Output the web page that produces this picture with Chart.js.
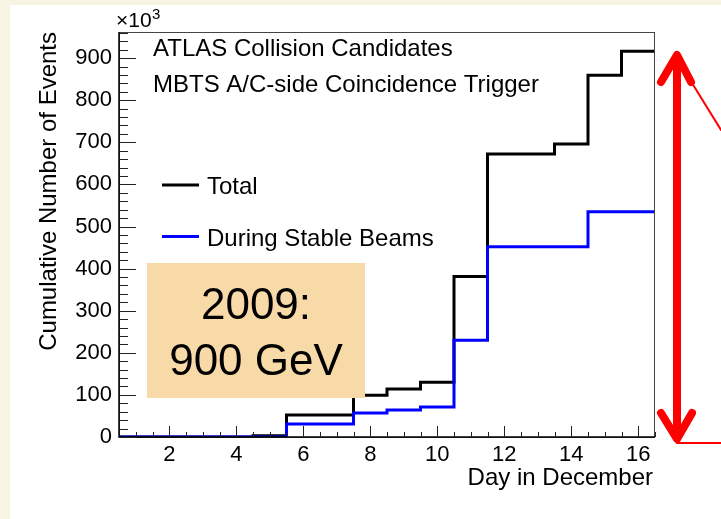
<!DOCTYPE html>
<html>
<head>
<meta charset="utf-8">
<script src="https://cdn.jsdelivr.net/npm/chart.js@4.4.1/dist/chart.umd.min.js"></script>
<style>
  html, body { margin: 0; padding: 0; background: #f8f4e4; }
  #wrap { position: absolute; left: 0; top: 0; width: 721px; height: 519px; }
</style>
</head>
<body>
<div id="wrap"><canvas id="c" width="721" height="519"></canvas></div>
<script>
// ---- data (thousands of events) ----
const days = [1, 2, 3, 4, 5, 6, 7, 8, 9, 10, 11, 12, 13, 14, 15, 16];
const totalEvents = [0, 0, 0, 0, 3, 52, 52, 99, 114, 130, 381, 672, 672, 696, 859, 916];
const stableBeamEvents = [0, 0, 0, 0, 0, 31, 31, 57, 64, 71, 230, 452, 452, 452, 535, 535];
const xTickLabels = [2, 4, 6, 8, 10, 12, 14, 16];
const yTickLabels = [0, 100, 200, 300, 400, 500, 600, 700, 800, 900];
const seriesNames = ['Total', 'During Stable Beams'];
const titleLines = ['ATLAS Collision Candidates', 'MBTS A/C-side Coincidence Trigger'];
const annotationLines = ['2009:', '900 GeV'];
const xAxisTitle = 'Day in December';
const yAxisTitle = 'Cumulative Number of Events';

// histogram as step points at bin low edges, plus closing edge
function histPoints(vals) {
  const pts = days.map((d, i) => ({ x: d - 0.5, y: vals[i] }));
  pts.push({ x: days[days.length - 1] + 0.5, y: vals[vals.length - 1] });
  return pts;
}

const FONT = "'Liberation Sans', Arial, Helvetica, sans-serif";
Chart.defaults.font.family = FONT;

const decor = {
  id: 'decor',
  beforeDraw(chart) {
    const c = chart.ctx;
    c.save();
    c.fillStyle = '#f8f4e4';
    c.fillRect(0, 0, chart.width, chart.height);
    c.fillStyle = '#ffffff';
    c.fillRect(10, 5, chart.width - 10, chart.height - 5);
    c.restore();
  },
  afterDatasetsDraw(chart) {
    const c = chart.ctx;
    const a = chart.chartArea;
    const xs = chart.scales.x, ys = chart.scales.y;
    c.save();
    // frame
    c.strokeStyle = '#444';
    c.lineWidth = 1;
    c.strokeRect(a.left + 0.5, a.top + 0.5, a.right - a.left - 1, a.bottom - a.top);
    c.strokeStyle = '#000';
    c.lineWidth = 1.5;
    c.beginPath();
    c.moveTo(a.left, a.top); c.lineTo(a.left, a.bottom); c.lineTo(a.right, a.bottom);
    c.stroke();
    // y ticks (inward), minor every 20
    c.strokeStyle = '#222';
    c.lineWidth = 1;
    c.beginPath();
    for (let v = 0; v <= ys.max; v += 20) {
      const y = Math.round(ys.getPixelForValue(v)) + 0.5;
      const len = (v % 100 === 0) ? 17 : 9;
      c.moveTo(a.left, y); c.lineTo(a.left + len, y);
    }
    // x ticks (inward), minor every 0.5
    for (let v = 1; v <= xs.max; v += 0.5) {
      const x = Math.round(xs.getPixelForValue(v)) + 0.5;
      const len = (v % 2 === 0) ? 11 : 5;
      c.moveTo(x, a.bottom); c.lineTo(x, a.bottom - len);
    }
    c.stroke();

    c.fillStyle = '#000';
    // x10^3
    c.font = '21px ' + FONT;
    c.textAlign = 'left'; c.textBaseline = 'alphabetic';
    c.fillText('\u00d710', 116, 27);
    c.font = '15px ' + FONT;
    c.fillText('3', 152, 19);

    // titles inside frame
    c.font = '24px ' + FONT;
    c.fillText(titleLines[0], 153, 56);
    c.fillText(titleLines[1], 153, 92);

    // legend
    const ds = chart.data.datasets;
    const legendRows = [{ name: seriesNames[0], color: ds[1].borderColor, y: 185 },
                        { name: seriesNames[1], color: ds[0].borderColor, y: 236.5 }];
    legendRows.forEach(r => {
      c.strokeStyle = r.color; c.lineWidth = 3;
      c.beginPath(); c.moveTo(162, r.y); c.lineTo(199, r.y); c.stroke();
      c.fillStyle = '#000';
      c.fillText(r.name, 207, r.y + 9);
    });

    // axis titles
    c.textAlign = 'right';
    c.fillText(xAxisTitle, 653, 485);
    c.save();
    c.translate(56, 32);
    c.rotate(-Math.PI / 2);
    c.textAlign = 'right';
    c.fillText(yAxisTitle, 0, 0);
    c.restore();

    // annotation box
    c.fillStyle = '#f8d9a8';
    c.fillRect(147, 263, 218, 135);
    c.fillStyle = '#000';
    c.font = '44px ' + FONT;
    c.textAlign = 'center';
    c.fillText(annotationLines[0], 256, 319);
    c.fillText(annotationLines[1], 256, 375);

    // red double arrow
    c.strokeStyle = '#ff0000';
    c.lineCap = 'round'; c.lineJoin = 'round';
    c.lineWidth = 2;
    c.beginPath();
    c.moveTo(679, 62); c.lineTo(721, 130);
    c.moveTo(677, 443); c.lineTo(721, 443);
    c.stroke();
    c.lineWidth = 8;
    c.lineCap = 'butt';
    c.beginPath();
    c.moveTo(677, 60); c.lineTo(677, 436);
    c.stroke();
    c.lineCap = 'round';
    c.beginPath();
    c.moveTo(661, 82); c.lineTo(677, 55); c.lineTo(691, 82);
    c.moveTo(661, 413); c.lineTo(677, 439); c.lineTo(692, 413);
    c.stroke();
    c.restore();
  }
};

new Chart(document.getElementById('c'), {
  type: 'line',
  data: {
    datasets: [
      { label: seriesNames[1], data: histPoints(stableBeamEvents), borderColor: '#0000ff',
        borderWidth: 3, stepped: true, pointRadius: 0, fill: false,
        borderJoinStyle: 'miter', borderCapStyle: 'butt' },
      { label: seriesNames[0], data: histPoints(totalEvents), borderColor: '#000000',
        borderWidth: 3, stepped: true, pointRadius: 0, fill: false,
        borderJoinStyle: 'miter', borderCapStyle: 'butt' }
    ]
  },
  options: {
    responsive: false,
    animation: false,
    devicePixelRatio: 1,
    layout: { padding: { top: 32, right: 66, left: 0, bottom: 0 } },
    plugins: { legend: { display: false }, tooltip: { enabled: false } },
    scales: {
      x: {
        type: 'linear', min: 0.5, max: 16.5,
        grid: { display: false, drawTicks: false },
        border: { display: false },
        ticks: { color: '#000', font: { size: 22 }, padding: 5, maxRotation: 0, autoSkip: false,
                 callback: v => String(v) },
        afterBuildTicks: s => { s.ticks = xTickLabels.map(v => ({ value: v })); },
        afterFit: s => { s.height = 82; }
      },
      y: {
        type: 'linear', min: 0, max: 962,
        grid: { display: false, drawTicks: false },
        border: { display: false },
        ticks: { color: '#000', font: { size: 22 }, padding: 7, autoSkip: false,
                 callback: v => String(v) },
        afterBuildTicks: s => { s.ticks = yTickLabels.map(v => ({ value: v })); },
        afterFit: s => { s.width = 119; }
      }
    }
  },
  plugins: [decor]
});
</script>
</body>
</html>
